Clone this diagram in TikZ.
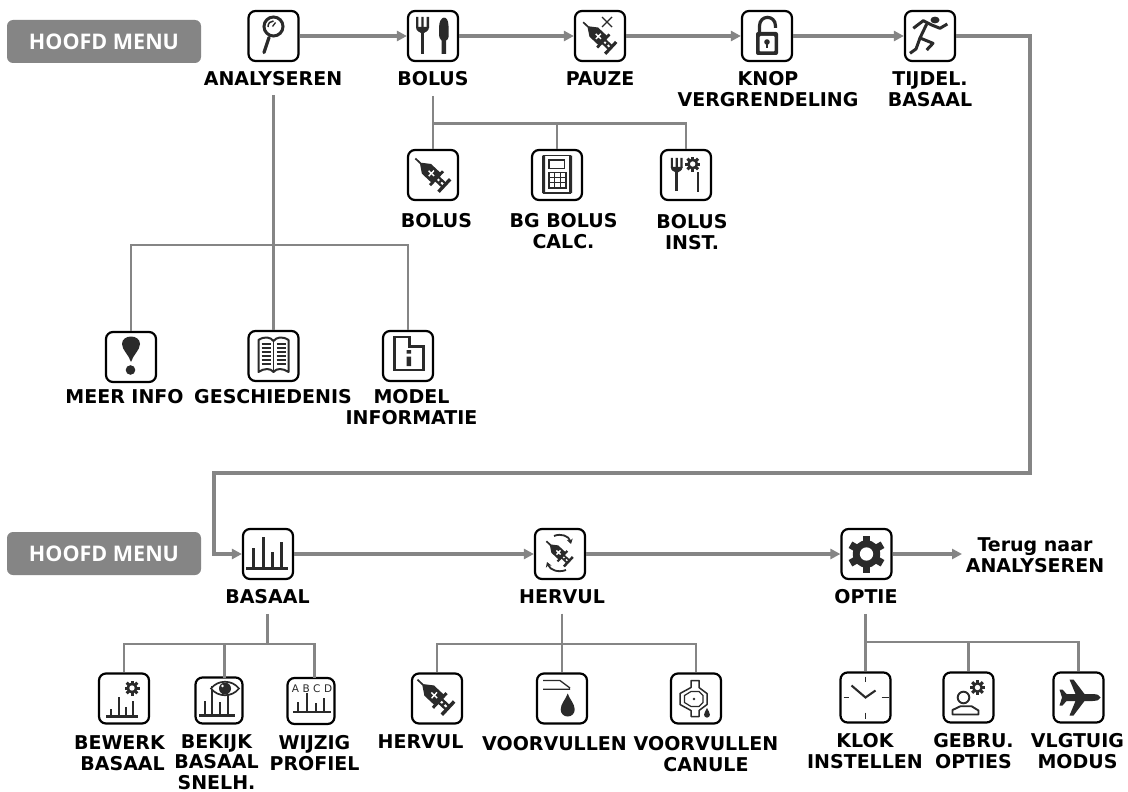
\documentclass[tikz,border=0pt]{standalone}
\usepackage{fontspec}
\setmainfont{DejaVu Sans}
\newfontfamily\menufont{Open Sans}
\usetikzlibrary{arrows.meta}
\definecolor{linegray}{HTML}{858585}
\definecolor{ink}{HTML}{2A2A2A}
\tikzset{
  iconbox/.style={draw=black,fill=white,line width=2.2pt,rounded corners=7pt,minimum width=50pt,minimum height=50pt,inner sep=0pt},
  lab/.style={anchor=north,inner sep=0pt,align=center,text=black,font=\fontsize{19}{21.5}\bfseries\selectfont},
  menubox/.style={fill=linegray,rounded corners=6pt,minimum width=194pt,minimum height=43pt,inner sep=0pt,text=white,font=\menufont\fontsize{21.5}{24}\bfseries\selectfont},
  flow/.style={draw=linegray,line width=3.5pt,-{Triangle[length=10pt,width=10pt]}},
  branch/.style={draw=linegray,line width=2.6pt},
  pics/bars/.style n args={8}{code={
    \draw[ink,line width=#8] (#1,#2) -- (#3,#2);
    \foreach \bx/\bt in {#4,#5,#6,#7}{\draw[ink,line width=#8] (\bx,#2) -- (\bx,\bt);}
  }},
  pics/gearx/.style 2 args={code={
    \fill[ink] (0,0) circle ({0.74*#1});
    \foreach \a in {1,...,#2}{\fill[ink,rotate={\a*360/#2}] ({-0.2*#1},0) rectangle ({0.2*#1},#1);}
    \fill[white] (0,0) circle ({0.36*#1});
  }},
  pics/syr/.style={code={
    \draw[ink,line width=1.7pt] (-24,0) -- (-13,0);
    \fill[ink] (-16,-1.2) -- (-8,-7) -- (6,-7) -- (6,7) -- (-8,7) -- (-16,1.2) -- cycle;
    \draw[white,line width=1.4pt] (-5,0) -- (3,0) (-1,-4) -- (-1,4);
    \fill[ink] (5,-10) rectangle (8,10);
    \fill[ink] (7,-3.5) rectangle (17,-1.2) (7,1.2) rectangle (17,3.5);
    \fill[ink] (10.5,-1.5) rectangle (13,1.5);
    \fill[ink] (16,-9) rectangle (19.5,9);
  }},
  pics/forkp/.style={code={
    \fill[ink] (-6.5,-19) rectangle (-4.2,-8) (-1.2,-19) rectangle (1.2,-8) (4.2,-19) rectangle (6.5,-8);
    \fill[ink] (-6.5,-9) .. controls (-6.5,-4) and (-2,-4) .. (-1.5,-3) -- (1.5,-3) .. controls (2,-4) and (6.5,-4) .. (6.5,-9) -- cycle;
    \draw[ink,line width=2.8pt] (0,-5) -- (0,18);
  }},
  pics/dropp/.style={code={
    \fill[ink] (0,-12) .. controls (2,-6) and (7,-2) .. (7,4) .. controls (7,8) and (4,11) .. (0,11) .. controls (-4,11) and (-7,8) .. (-7,4) .. controls (-7,-2) and (-2,-6) .. (0,-12) -- cycle;
  }},
}
\begin{document}
\begin{tikzpicture}[x=1pt,y=-1pt]
\useasboundingbox (0,0) rectangle (1128,792);
\fill[white] (0,0) rectangle (1128,792);

% menu banners
\node[menubox] (m1) at (104,41.5) {HOOFD MENU};
\node[menubox] (m2) at (104,553.5) {HOOFD MENU};

% icon boxes
\node[iconbox] (an) at (273.5,36) {};
\node[iconbox] (bo) at (433,36) {};
\node[iconbox] (pa) at (600,36) {};
\node[iconbox] (kn) at (767,36) {};
\node[iconbox] (ti) at (930,36) {};
\node[iconbox] (bb) at (433,175) {};
\node[iconbox] (bg) at (557,175) {};
\node[iconbox] (bi) at (686,175) {};
\node[iconbox] (mi) at (131,357) {};
\node[iconbox] (ge) at (273.5,356) {};
\node[iconbox] (mo) at (408,356) {};
\node[iconbox] (ba) at (268,554) {};
\node[iconbox] (he) at (560,554) {};
\node[iconbox] (op) at (866.5,554) {};
\node[iconbox] (be) at (124,698.5) {};
\node[iconbox,minimum width=47pt,minimum height=46pt] (bk) at (219,700.5) {};
\node[iconbox,minimum width=47pt,minimum height=46pt] (wi) at (311,701) {};
\node[iconbox] (hv) at (437,698.5) {};
\node[iconbox] (vo) at (562,698.5) {};
\node[iconbox] (vc) at (696,698.5) {};
\node[iconbox] (kl) at (865.5,697.5) {};
\node[iconbox] (gu) at (968.5,697.5) {};
\node[iconbox] (vl) at (1078.5,697.5) {};

% labels
\node[lab] (lan) at (273,71) {ANALYSEREN};
\node[lab] (lbo) at (433,71) {BOLUS};
\node[lab] at (600,71) {PAUZE};
\node[lab] at (768,71) {KNOP\\VERGRENDELING};
\node[lab] at (930,71) {TIJDEL.\\BASAAL};
\node[lab] at (436.5,213) {BOLUS};
\node[lab] at (563.5,213) {BG BOLUS\\CALC.};
\node[lab] at (692,214) {BOLUS\\INST.};
\node[lab] at (124.5,389) {MEER INFO};
\node[lab] at (273,389) {GESCHIEDENIS};
\node[lab] at (411.5,389) {MODEL\\INFORMATIE};
\node[lab] (lba) at (267.5,589) {BASAAL};
\node[lab] (lhe) at (562,589) {HERVUL};
\node[lab] (lop) at (866,589) {OPTIE};
\node[lab,align=right,anchor=north east] at (165,735) {BEWERK\\BASAAL};
\node[lab,font=\fontsize{19}{20.5}\bfseries\selectfont] at (216.5,734) {BEKIJK\\BASAAL\\SNELH.};
\node[lab] at (314.5,735) {WIJZIG\\PROFIEL};
\node[lab] at (420.5,734) {HERVUL};
\node[lab] at (554.5,736) {VOORVULLEN};
\node[lab] at (706,736) {VOORVULLEN\\CANULE};
\node[lab] at (865,733) {KLOK\\INSTELLEN};
\node[lab] at (973.5,733) {GEBRU.\\OPTIES};
\node[lab] at (1077.5,733) {VLGTUIG\\MODUS};
\node[lab] (terug) at (1035,537) {Terug naar\\ANALYSEREN};

% connectors
\draw[flow] (an) -- (bo);
\draw[flow] (bo) -- (pa);
\draw[flow] (pa) -- (kn);
\draw[flow] (kn) -- (ti);
\coordinate (c1) at (1030,36);
\coordinate (c2) at (1030,473);
\coordinate (c3) at (214,473);
\coordinate (c4) at (214,554);
\draw[flow] (ti) -- (c1) -- (c2) -- (c3) -- (c4) -- (ba);
\draw[flow] (ba) -- (he);
\draw[flow] (he) -- (op);
\coordinate (tg) at (962,554);
\draw[flow] (op) -- (tg);

\coordinate (lant) at (273.5,95);
\coordinate (j1) at (273.5,245);
\draw[branch] (lant) -- (ge.north);
\draw[branch] (mi.north) |- (j1) -| (mo.north);
\coordinate (j2) at (433,123.5);
\draw[branch,shorten <=10pt] (lbo.south) -- (bb.north);
\draw[branch] (j2) -| (bg.north);
\draw[branch] (j2) -| (bi.north);
\coordinate (j3) at (267.5,644);
\coordinate (bka) at (224.5,678);
\coordinate (wia) at (314.5,678);
\draw[branch,shorten <=10pt] (lba.south) -- (j3);
\draw[branch] (be.north) |- (j3);
\draw[branch] (j3) -| (bka);
\draw[branch] (j3) -| (wia);
\coordinate (j4) at (562,644);
\draw[branch,shorten <=10pt] (lhe.south) -- (vo.north);
\draw[branch] (hv.north) |- (j4) -| (vc.north);
\coordinate (j5) at (865.5,642);
\draw[branch,shorten <=10pt] (lop.south -| kl.north) -- (kl.north);
\draw[branch] (j5) -| (gu.north);
\draw[branch] (j5) -| (vl.north);

% ---- icons ----
% magnifier
\begin{scope}[shift={(an.center)}]
  \draw[ink,line width=3pt] (0,-9.5) circle (9.5);
  \draw[ink,line width=1.5pt] (-5.5,-9) .. controls (-5.5,-13) and (-3,-15) .. (0,-15);
  \draw[ink,line width=1.3pt] (-1,-9.5) -- (2,-13.5);
  \draw[ink,line width=3.2pt,line cap=round] (-4.5,1.5) -- (-9.5,16.5);
\end{scope}
% fork and knife
\pic at ([shift={(-10.5,0)}]bo.center) {forkp};
\begin{scope}[shift={(bo.center)}]
  \fill[ink] (6,-8) .. controls (6,-21) and (15.5,-22) .. (15.5,-10) -- (15.5,1) .. controls (15.5,3) and (14,4) .. (13,4.5) -- (13,18) -- (8.5,18) -- (8.5,4.5) .. controls (7,3) and (6,1) .. (6,-1) -- cycle;
\end{scope}
% pause syringe
\pic[rotate=-43,scale=.9] at ([shift={(-1,1)}]pa.center) {syr};
\draw[ink,line width=1.4pt] ([shift={(2,-19)}]pa.center) -- ([shift={(12,-9)}]pa.center) ([shift={(12,-19)}]pa.center) -- ([shift={(2,-9)}]pa.center);
% lock
\begin{scope}[shift={(kn.center)}]
  \draw[ink,line width=3.2pt] (-7.5,-2) -- (-7.5,-10) .. controls (-7.5,-21.5) and (8.5,-21.5) .. (8.5,-10) -- (8.5,-8);
  \fill[ink,rounded corners=2pt] (-11,-4) rectangle (11,19);
  \fill[white,rounded corners=1pt] (-7.5,0) rectangle (7.5,15.5);
  \fill[ink] (0,6) circle (2.8);
  \fill[ink] (-1.3,6) rectangle (1.3,12);
\end{scope}
% runner
\begin{scope}[shift={(ti.center)}]
  \fill[ink] (5,-16) ellipse (4.5 and 3.4);
  \draw[ink,line width=3pt,line join=round] (-16.7,-7.7) -- (-6.7,-15.3) -- (1.7,-11) -- (10,-7.7) -- (17.3,-12);
  \draw[ink,line width=3pt,line join=round] (-3.3,-12) -- (-10,2) -- (3,7.3) -- (-3.3,14);
  \draw[ink,line width=3pt,line join=round] (-10,2) -- (-14,13) -- (-20,17.3);
\end{scope}
% bolus syringe
\pic[rotate=-43,scale=.95] at ([shift={(-1,-1)}]bb.center) {syr};
% calculator
\begin{scope}[shift={(bg.center)}]
  \draw[ink,line width=1.5pt] (-13,-19.5) rectangle (13,18);
  \fill[ink] (-15,-19.5) rectangle (-12,18) (12,-19.5) rectangle (15,18);
  \draw[ink,line width=1.5pt] (-8,-15) rectangle (7.5,-6.5);
  \draw[ink,line width=1.2pt] (-8,-2.5) rectangle (9,13);
  \draw[ink,line width=1.1pt] (-8,2.7) -- (9,2.7) (-8,7.8) -- (9,7.8) (-2.3,-2.5) -- (-2.3,13) (3.4,-2.5) -- (3.4,13);
\end{scope}
% bolus inst
\pic[scale=.9] at ([shift={(-9.3,0)}]bi.center) {forkp};
\pic at ([shift={(6.7,-11)}]bi.center) {gearx={7.5}{8}};
\draw[ink,line width=2.4pt] ([shift={(11.7,-2.7)}]bi.center) -- ([shift={(11.7,16.7)}]bi.center);
% exclamation
\begin{scope}[shift={(mi.center)}]
  \fill[ink] (0,5) .. controls (-2,-2) and (-9,-7) .. (-9,-13) .. controls (-9,-23) and (9,-23) .. (9,-13) .. controls (9,-7) and (2,-2) .. (0,5) -- cycle;
  \fill[ink] (-0.5,13) circle (4.8);
\end{scope}
% book
\begin{scope}[shift={(ge.center)}]
  \draw[ink,line width=2pt,line join=round] (-15,-16) .. controls (-9,-20) and (-3,-19) .. (0,-15) .. controls (3,-19) and (9,-20) .. (15,-16) -- (15,16) .. controls (9,12) and (3,12) .. (0,16) .. controls (-3,12) and (-9,12) .. (-15,16) -- cycle;
  \draw[ink,line width=1pt] (0,-15) -- (0,16);
  \foreach \ly in {-12,-8,-4,0,4,8}{\draw[ink,line width=1.2pt] (-12,\ly) -- (-3,\ly) (3,\ly) -- (12,\ly);}
\end{scope}
% model info
\begin{scope}[shift={(mo.center)}]
  \draw[ink,line width=2.6pt,line join=miter] (-13.7,-19) -- (1.3,-19) -- (1.3,-9.3) -- (15.3,-9.3) -- (15.3,14) -- (-13.7,14) -- cycle;
  \fill[ink] (-1.5,-6) rectangle (3,-2.5) (-1.5,0.5) rectangle (3,10);
\end{scope}
% big basal chart
\pic at (ba.center) {bars={-22}{14}{20}{-15/-6}{-5/-17}{4/-2}{13/-12}{3pt}};
% refill
\pic[rotate=-43,scale=.72] at ([shift={(-1,-1)}]he.center) {syr};
\begin{scope}[shift={(he.center)}]
  \draw[ink,line width=1.8pt,-{Stealth[length=5pt,width=6pt]}] (-6,-18) .. controls (1,-21) and (9,-18) .. (11,-10);
  \draw[ink,line width=1.8pt,-{Stealth[length=5pt,width=6pt]}] (6,16) .. controls (-2,19) and (-10,16) .. (-13,8);
\end{scope}
% gear
\pic at (op.center) {gearx={18.5}{6}};
% edit basal
\pic at (be.center) {bars={-18}{18}{14}{-13/10}{-5/-1.5}{2/8}{9/2}{2.4pt}};
\pic at ([shift={(8,-10.5)}]be.center) {gearx={7.5}{8}};
% view basal
\pic at (bk.center) {bars={-20}{15}{16}{-14/0}{-7/-15}{1/1.7}{9/-15}{2.7pt}};
\begin{scope}[shift={(bk.center)}]
  \draw[ink,line width=1.7pt,fill=white] (-8,-12) .. controls (-1,-21) and (13,-21) .. (20,-12) .. controls (13,-3) and (-1,-3) .. (-8,-12) -- cycle;
  \fill[ink] (6,-12) circle (6);
  \fill[white] (3.5,-14.5) circle (1.4);
\end{scope}
% abcd
\pic at (wi.center) {bars={-18}{11}{20}{-13/1}{-4/-8}{5/2}{13/-3}{2.4pt}};
\node[inner sep=0pt,font=\fontsize{10.5}{11}\selectfont,text=ink] (abcd) at ([shift={(1,-12)}]wi.center) {A\,\,B\,\,C\,\,D};
% hervul syringe
\pic[rotate=-43] at ([shift={(-2,-2.5)}]hv.center) {syr};
% prime
\begin{scope}[shift={(vo.center)}]
  \draw[ink,line width=1.3pt] (-19,-18) -- (-2,-18) -- (8,-10.5) (-19,-9.2) -- (8,-9.2);
\end{scope}
\pic at ([shift={(5.7,7)}]vo.center) {dropp};
% cannula
\begin{scope}[shift={(vc.center)}]
  \draw[ink,line width=1.5pt,line join=round] (-5,-18) -- (3,-18) -- (3,-11) -- (11,-5) -- (11,6) -- (3,12) -- (3,18) -- (-5,18) -- (-5,12) -- (-16,6) -- (-16,-5) -- (-5,-11) -- cycle;
  \draw[ink,line width=1.2pt] (-11.5,-3) -- (-5,-7) -- (3,-7) -- (7,-3) -- (7,4) -- (3,8) -- (-5,8) -- (-11.5,4) -- cycle;
  \fill[ink] (-2,0.5) circle (1.4);
\end{scope}
\pic[scale=.42] at ([shift={(11,14.5)}]vc.center) {dropp};
% clock
\begin{scope}[shift={(kl.center)}]
  \draw[ink,line width=1.9pt] (0,-21) -- (0,-16) (0,15) -- (0,21) (-22,0) -- (-17,0) (16,0) -- (23,0);
  \draw[ink,line width=2.1pt] (-14,-12) -- (0,0) -- (10,-7);
\end{scope}
% user options
\begin{scope}[shift={(gu.center)}]
  \draw[ink,line width=1.9pt] (-5,0) circle (5.8);
  \draw[ink,line width=1.9pt,line join=round] (-16,17) -- (-16,12.5) -- (-8,8.7) -- (3,8.7) -- (10,13) -- (10,17) -- cycle;
\end{scope}
\pic at ([shift={(9,-10)}]gu.center) {gearx={7.5}{8}};
% plane
\begin{scope}[shift={(vl.center)}]
  \fill[ink] (22,0) .. controls (20,-3) .. (14,-3.5) -- (6,-3.5) -- (-5,-18) -- (-9,-18) -- (-3,-3.5) -- (-12,-3.5) -- (-16,-8) -- (-19,-8) -- (-16.5,0) -- (-19,8) -- (-16,8) -- (-12,3.5) -- (-3,3.5) -- (-9,18) -- (-5,18) -- (6,3.5) -- (14,3.5) .. controls (20,3) .. (22,0) -- cycle;
\end{scope}
\end{tikzpicture}
\end{document}
